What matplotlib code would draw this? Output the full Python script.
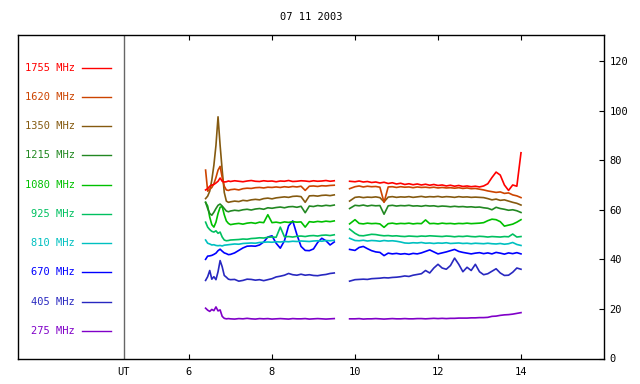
import numpy as np
import matplotlib
matplotlib.use("Agg")
import matplotlib.pyplot as plt
import matplotlib.transforms as mtransforms

plt.rcParams['font.family'] = ['DejaVu Sans Mono']

title = "07 11 2003"
labels = ["1755 MHz", "1620 MHz", "1350 MHz", "1215 MHz", "1080 MHz",
          "925 MHz", "810 MHz", "670 MHz", "405 MHz", "275 MHz"]
colors = ["#ff0000", "#cc4400", "#855a10", "#228822", "#00c000",
          "#00c060", "#00c0c0", "#0000ff", "#2828c0", "#8000c8"]
xticks = [6, 8, 10, 12, 14]
yticks = [0, 20, 40, 60, 80, 100, 120]

# time grid (UT hours)
t1 = [6.40, 6.45, 6.50, 6.55, 6.60, 6.65, 6.70, 6.75, 6.80, 6.85, 6.90, 6.95, 7.00,
      7.1, 7.2, 7.3, 7.4, 7.5, 7.6, 7.7, 7.8, 7.9, 8.0, 8.1, 8.2, 8.3, 8.4, 8.5,
      8.6, 8.7, 8.8, 8.9, 9.0, 9.1, 9.2, 9.3, 9.4, 9.5]
t2 = [9.87, 10.0, 10.1, 10.2, 10.3, 10.4, 10.5, 10.6, 10.7, 10.8, 10.9, 11.0, 11.1,
      11.2, 11.3, 11.4, 11.5, 11.6, 11.7, 11.8, 11.9, 12.0, 12.1, 12.2, 12.3, 12.4,
      12.5, 12.6, 12.7, 12.8, 12.9, 13.0, 13.1, 13.2, 13.3, 13.4, 13.5, 13.6, 13.7,
      13.8, 13.9, 14.0]

f1755_a = [68.0, 68.5, 69.5, 70.0, 70.2, 70.8, 71.5, 72.8, 71.5, 71.2, 71.3, 71.6, 71.4,
           71.7, 71.5, 71.3, 71.6, 71.8, 71.5, 71.4, 71.7, 71.5, 71.6, 71.3, 71.6, 71.5,
           71.8, 71.4, 71.5, 71.7, 71.6, 71.4, 71.7, 71.5, 71.6, 71.8, 71.5, 71.7]
f1755_b = [71.5, 71.3, 71.6, 71.2, 71.4, 71.0, 71.2, 70.8, 71.1, 70.6, 70.9, 70.4, 70.7,
           70.2, 70.5, 70.1, 70.4, 70.0, 70.3, 69.9, 70.2, 69.8, 70.0, 69.6, 69.9, 69.5,
           69.8, 69.4, 69.6, 69.3, 69.5, 69.2, 69.6, 70.5, 73.0, 75.2, 74.0, 70.0, 67.8,
           70.0, 69.5, 83.0]

f1620_a = [76.0, 67.5, 68.2, 69.0, 70.5, 73.0, 76.0, 77.5, 73.0, 69.5, 68.0, 67.8, 68.1,
           68.3, 68.0, 68.5, 68.7, 68.6, 68.9, 69.0, 68.8, 69.1, 69.0, 69.2, 69.0, 69.3,
           69.1, 69.4, 69.2, 69.5, 67.8, 69.5, 69.6, 69.4, 69.7, 69.6, 69.8, 69.9]
f1620_b = [68.5, 69.3, 69.6, 69.2, 69.5, 69.3, 69.4, 69.1, 63.0, 69.2, 69.3, 69.0, 69.3,
           69.1, 69.2, 68.9, 69.2, 69.0, 69.1, 68.9, 69.1, 68.8, 69.0, 68.8, 68.9, 68.7,
           68.9, 68.6, 68.8, 68.5, 68.6, 68.3, 68.0, 67.6, 67.3, 67.0, 67.2, 66.6, 66.8,
           66.0, 65.6, 64.9]

f1350_a = [64.5, 65.5, 67.5, 72.0, 78.0, 86.0, 97.5, 86.0, 76.0, 67.0, 63.5, 63.0, 63.2,
           63.5, 63.3, 63.8, 63.6, 64.0, 64.2, 64.0, 64.5, 64.7, 64.4, 64.8, 65.0, 65.2,
           65.0, 65.4, 65.5, 65.3, 63.0, 65.6, 65.7, 65.5, 65.8, 65.9, 65.7, 66.0]
f1350_b = [63.5, 65.0, 65.2, 64.9, 65.1, 65.0, 65.2, 64.9, 63.2, 65.1, 65.3, 65.0, 65.2,
           65.1, 65.3, 65.0, 65.2, 65.4, 65.1, 65.3, 65.2, 65.4, 65.1, 65.3, 65.2, 65.0,
           65.3, 65.1, 65.2, 65.0, 65.1, 65.0, 64.9, 64.5, 64.0, 64.3, 63.8, 64.0, 63.5,
           63.0, 62.6, 61.9]

f1215_a = [63.0, 60.5, 58.5, 57.8, 59.0, 60.5, 61.8, 62.3, 61.5, 60.5, 59.5, 59.2, 59.5,
           59.8, 59.6, 60.0, 60.2, 59.9, 60.3, 60.5, 60.2, 60.8, 60.6, 60.9, 61.1, 60.8,
           61.2, 61.3, 61.0, 61.4, 58.8, 61.5, 61.3, 61.7, 61.5, 61.8, 61.6, 61.9]
f1215_b = [60.5, 61.8, 61.6, 61.9, 61.5, 61.8, 61.6, 61.7, 58.2, 61.6, 61.8, 61.5, 61.7,
           61.6, 61.8, 61.5, 61.6, 61.4, 61.7, 61.5, 61.6, 61.3, 61.5, 61.4, 61.2, 61.4,
           61.2, 61.3, 61.1, 61.2, 61.0, 61.1, 60.8, 60.6, 60.0, 61.0, 60.5, 60.2, 59.8,
           60.0, 59.6, 58.9]

f1080_a = [63.0, 61.5, 57.0, 54.0, 53.0, 55.0, 58.5, 61.0, 61.3, 58.0, 55.5, 54.5, 54.0,
           54.3, 54.5, 54.2, 54.6, 54.8, 54.5, 55.0, 54.8, 58.0, 54.8, 55.0, 54.7, 55.1,
           54.9, 55.2, 55.0, 55.1, 53.0, 55.2, 55.0, 55.3, 55.1, 55.4, 55.2, 55.5]
f1080_b = [54.3, 56.0, 54.5, 54.3, 54.6, 54.4, 54.5, 54.3, 52.9, 54.4, 54.6, 54.3, 54.5,
           54.4, 54.6, 54.3, 54.5, 54.4, 55.9, 54.4, 54.5, 54.3, 54.6, 54.4, 54.5, 54.3,
           54.5, 54.4, 54.6, 54.4, 54.5, 54.6, 54.8, 55.6, 56.2, 56.0, 55.2, 53.4, 53.8,
           54.2, 55.0, 56.0]

f925_a = [55.0, 53.0, 52.0, 51.3, 51.0, 51.5, 50.5, 51.0, 49.0, 47.8, 47.5, 47.6, 47.8,
          47.9, 48.0, 48.2, 48.1, 48.4, 48.5, 48.7, 48.6, 48.9, 49.0, 48.9, 53.0, 49.1,
          49.2, 49.0, 49.3, 49.4, 49.2, 49.5, 49.6, 49.4, 49.7, 49.8, 49.6, 49.9]
f925_b = [52.2, 50.5, 49.6, 49.5, 49.8, 50.1, 50.0, 49.7, 49.5, 49.6, 49.4, 49.5, 49.3,
          49.2, 49.4, 49.3, 49.2, 49.4, 49.3, 49.5, 49.4, 49.3, 49.2, 49.4, 49.3, 49.1,
          49.3, 49.2, 49.4, 49.2, 49.1, 49.3, 49.2, 49.0, 49.2, 49.1, 49.0, 49.2, 49.1,
          50.2, 49.0, 49.2]

f810_a = [47.8, 46.5, 46.2, 45.8, 45.9, 45.6, 45.5, 45.6, 45.4, 45.7, 45.8, 45.9, 46.0,
          46.2, 46.1, 46.4, 46.5, 46.6, 46.5, 46.8, 46.9, 47.0, 46.9, 47.1, 47.0, 47.2,
          47.1, 47.3, 47.2, 47.4, 47.3, 47.2, 47.4, 47.5, 47.3, 47.6, 47.5, 47.7]
f810_b = [48.5, 47.6, 47.5, 47.7, 47.4, 47.6, 47.5, 47.3, 47.6, 47.4, 47.5, 47.3, 47.0,
          46.6, 46.5, 46.7, 46.6, 46.8, 46.5, 46.6, 46.4, 46.6, 46.5, 46.7, 46.4, 46.5,
          46.6, 46.4, 46.5, 46.3, 46.5, 46.4, 46.3, 46.5, 46.3, 46.2, 46.4, 46.1, 46.3,
          46.8, 46.0, 45.6]

f670_a = [40.0, 41.3, 41.4, 41.6, 42.0, 42.5, 43.5, 44.1, 43.3, 42.6, 42.3, 41.9, 42.0,
          42.6, 43.6, 44.6, 45.3, 45.4, 45.3, 45.8, 47.0, 49.0, 49.5, 46.5, 44.5, 47.5,
          53.5, 55.5, 50.0, 45.2, 43.6, 43.5, 44.2, 46.8, 48.5, 47.5, 45.8, 47.0]
f670_b = [44.0, 43.6, 44.8, 45.2, 44.3, 43.5, 43.0, 42.8, 41.5, 42.5, 42.2, 42.4, 42.1,
          42.3, 42.0, 42.4, 42.2, 42.6, 43.2, 43.8, 43.0, 42.2, 42.6, 43.0, 43.5, 44.0,
          43.2, 42.8, 42.5, 42.2, 42.5, 42.7, 42.3, 42.6, 42.2, 42.8, 42.5, 42.1, 42.6,
          42.3, 42.7, 42.2]

f405_a = [31.5, 33.0, 35.5, 32.0, 33.0, 31.8, 35.0, 39.5, 37.0, 33.5, 32.8, 32.0, 31.8,
          31.9, 31.2, 31.5, 32.0, 31.9, 31.6, 31.8, 31.4, 31.8, 32.2, 32.9, 33.2, 33.6,
          34.3, 33.8, 33.6, 34.0, 33.6, 33.8, 33.5, 33.4, 33.7, 33.9, 34.3, 34.5]
f405_b = [31.2, 31.8, 31.9, 32.0, 31.9, 32.2, 32.3, 32.4, 32.6, 32.5, 32.7, 32.8, 33.0,
          33.3, 33.1, 33.6, 33.9, 34.2, 35.5, 34.5, 36.5, 38.0, 36.5, 36.0, 37.5, 40.5,
          38.0, 35.0, 36.8, 35.5, 38.0, 35.0, 33.8, 34.2, 35.2, 36.2, 34.5, 33.5, 33.6,
          34.8, 36.5, 36.0]

f275_a = [20.3, 19.5, 19.0, 19.8, 19.3, 20.8, 19.2, 19.6, 17.0, 16.2, 16.0, 16.1, 16.0,
          15.9, 16.1, 16.0, 16.2, 16.0, 15.9, 16.1, 16.0, 16.1, 15.9, 16.0, 16.1, 16.0,
          15.9, 16.1, 16.0, 16.0, 16.1, 15.9, 16.0, 16.1, 16.0, 15.9, 16.0, 16.1]
f275_b = [16.0, 16.0, 16.1, 15.9, 16.0, 16.0, 16.1, 16.0, 15.9, 16.0, 16.1, 16.0, 16.0,
          16.1, 16.0, 16.0, 16.1, 16.1, 16.0, 16.1, 16.2, 16.1, 16.2, 16.1, 16.2, 16.2,
          16.3, 16.3, 16.3, 16.4, 16.4, 16.5, 16.5, 16.6, 17.0, 17.1, 17.4, 17.6, 17.7,
          17.9, 18.2, 18.5]

series_a = [f1755_a, f1620_a, f1350_a, f1215_a, f1080_a, f925_a, f810_a, f670_a, f405_a, f275_a]
series_b = [f1755_b, f1620_b, f1350_b, f1215_b, f1080_b, f925_b, f810_b, f670_b, f405_b, f275_b]

fig = plt.figure(figsize=(6.4, 3.84), dpi=100)
ax = fig.add_axes([18/640, 1 - 358.5/384, 586/640, 323.5/384])

for i in range(len(labels) - 1, -1, -1):
    ax.plot(t1, series_a[i], color=colors[i], lw=1.2)
    ax.plot(t2, series_b[i], color=colors[i], lw=1.2)

ax.set_xlim(1.88, 16.0)
ax.set_ylim(0, 130.5)

ut_x = 4.43
ax.axvline(ut_x, color="#666666", lw=1.0)

# legend on the left
for i, (lab, c) in enumerate(zip(labels, colors)):
    yf = 0.899 - i * 0.0904
    ax.text(0.097, yf, lab, color=c, fontsize=7.5, ha='right', va='center',
            transform=ax.transAxes)
    ax.plot([0.109, 0.159], [yf, yf], color=c, lw=1.0, transform=ax.transAxes)

ax.set_xticks(xticks)
ax.set_xticklabels([str(v) for v in xticks])
ax.yaxis.tick_right()
ax.set_yticks(yticks)
ax.set_yticklabels([str(v) for v in yticks])
ax.tick_params(axis='x', direction='in', length=3.5, top=True, bottom=True,
               labelsize=7.5, pad=6, width=0.8)
ax.tick_params(axis='y', direction='in', length=3.5, left=False, right=True,
               labelsize=7.5, pad=4, width=0.8)

trans = mtransforms.blended_transform_factory(ax.transData, ax.transAxes)
ax.text(ut_x, -0.042, "UT", fontsize=7.5, ha='center', va='center', transform=trans)

for s in ax.spines.values():
    s.set_linewidth(1.0)

fig.text(311/640, 1 - 17.5/384, title, fontsize=7.5, ha='center', va='center')

fig.savefig("out.png", dpi=100)
